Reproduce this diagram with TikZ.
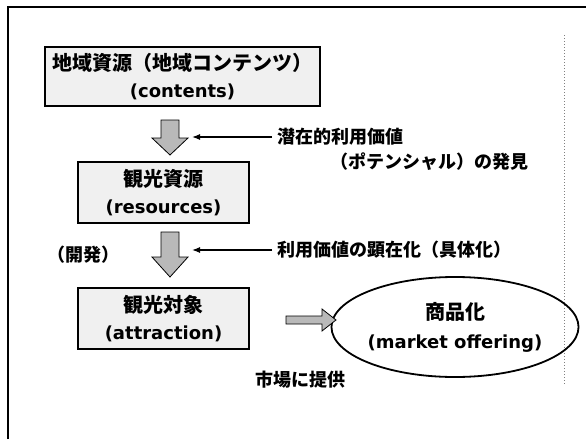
\documentclass[tikz,border=0pt]{standalone}
\usepackage{fontspec}
\setmainfont{Noto Sans CJK JP}
\newfontfamily\latinfont{DejaVu Sans}
\usetikzlibrary{shapes.geometric,arrows.meta}
\begin{document}
\begin{tikzpicture}[x=1pt,y=-1pt,
  box/.style={draw=black,line width=1.6pt,fill=gray!12,align=center,inner sep=0pt,
    font=\fontsize{20}{27}\selectfont\bfseries},
  note/.style={inner sep=0pt,font=\fontsize{18}{20}\selectfont\bfseries},
  blockarrow/.style={draw=black,line width=0.8pt,fill=gray!55},
  thinarrow/.style={-{Latex[length=8pt,width=6pt]},line width=1.2pt}]
\useasboundingbox (0,0) rectangle (586,439);
\draw [line width=2.2pt] (8,439) -- (8,7) -- (586,7);
\draw [gray,dotted,line width=1pt] (564,35) -- (564,385);
\node [box,minimum width=275pt,minimum height=59pt] (contents) at (182.5,76.5) {地域資源（地域コンテンツ）\\{\latinfont\fontsize{18}{20}\selectfont (contents)}};
\node [box,minimum width=171pt,minimum height=61pt] (resources) at (163.5,192.5) {観光資源\\{\latinfont\fontsize{18}{20}\selectfont (resources)}};
\node [box,minimum width=171pt,minimum height=61pt] (attraction) at (163.5,318.5) {観光対象\\{\latinfont\fontsize{18}{20}\selectfont (attraction)}};
\node [ellipse,draw=black,line width=1.8pt,minimum width=216pt,minimum height=100pt,align=center,inner sep=0pt,
  font=\fontsize{20}{29}\selectfont\bfseries] (offering) at (455,327) {商品化\\{\latinfont\fontsize{18}{20}\selectfont (market offering)}};
\draw [blockarrow] (161,120) -- (179,120) -- (179,138) -- (188,138) -- (170,155) -- (152,138) -- (161,138) -- cycle;
\draw [blockarrow] (161,232) -- (179,232) -- (179,257) -- (188,257) -- (170,277) -- (152,257) -- (161,257) -- cycle;
\draw [blockarrow] (286,316) -- (322,316) -- (322,309) -- (336,320) -- (322,331) -- (322,324) -- (286,324) -- cycle;
\coordinate (tip1) at (192,137);
\coordinate (tip2) at (192,250);
\node [note,anchor=west] (potential) at (277,137) {潜在的利用価値};
\node [note,anchor=west] (discovery) at (330,162) {（ポテンシャル）の発見};
\node [note,anchor=west] (manifest) at (277,250) {利用価値の顕在化（具体化）};
\node [note] (develop) at (83,255) {（開発）};
\node [note] (market) at (300,380) {市場に提供};
\draw [thinarrow] ([xshift=-5pt]potential.west) -- (tip1);
\draw [thinarrow] ([xshift=-5pt]manifest.west) -- (tip2);
\end{tikzpicture}
\end{document}
